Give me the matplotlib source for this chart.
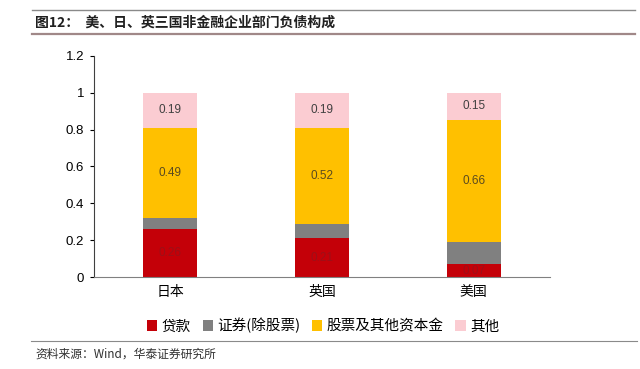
import numpy as np
import matplotlib
matplotlib.use("Agg")
import matplotlib.pyplot as plt
from matplotlib.patches import Patch
from matplotlib.lines import Line2D

plt.rcParams['font.family'] = ['Noto Sans CJK SC', 'DejaVu Sans']

# data
countries = ["日本", "英国", "美国"]
series_names = ["贷款", "证券(除股票)", "股票及其他资本金", "其他"]
loans = [0.26, 0.21, 0.07]
securities = [0.06, 0.08, 0.12]
equity = [0.49, 0.52, 0.66]
other = [0.19, 0.19, 0.15]
y_ticks = [0, 0.2, 0.4, 0.6, 0.8, 1, 1.2]
y_tick_labels = ["0", "0.2", "0.4", "0.6", "0.8", "1", "1.2"]

colors = ["#C40008", "#808080", "#FFC000", "#FBCCD2"]
# labels on the red segments are barely visible in the original
label_colors = ["#9c1018", None, "#5a4a20", "#404040"]

fig = plt.figure(figsize=(6.4, 3.69), dpi=100)
ax = fig.add_axes([0.147, 0.249, 0.712, 0.6])

x = np.arange(len(countries))
bottom = np.zeros(len(countries))
for vals, c, lc in zip([loans, securities, equity, other], colors, label_colors):
    bars = ax.bar(x, vals, width=0.355, bottom=bottom, color=c)
    if lc is not None:
        ax.bar_label(bars, labels=[f"{v:.2f}" for v in vals], label_type="center",
                     color=lc, fontsize=8.5, family=["Liberation Sans"])
    bottom += np.array(vals)

ax.set_xlim(-0.5, 2.5)
ax.set_ylim(0, 1.2)
ax.set_yticks(y_ticks)
ax.set_yticklabels(y_tick_labels, fontsize=9.5, family=["Liberation Sans"])
ax.set_xticks(x)
ax.set_xticklabels(countries, fontsize=10)
ax.tick_params(axis="x", length=0, pad=6)
ax.tick_params(axis="y", length=3, width=0.8, direction="out", pad=4)
for s in ["top", "right"]:
    ax.spines[s].set_visible(False)
ax.spines["left"].set_color("#404040")
ax.spines["bottom"].set_color("#808080")

handles = [Patch(facecolor=c, edgecolor="none") for c in colors]
fig.legend(handles, series_names, loc="center", bbox_to_anchor=(0.505, 0.117), ncol=4,
           frameon=False, fontsize=10.5, handlelength=0.7, handleheight=0.7,
           handletextpad=0.3, columnspacing=0.8)

# header / footer rules and text
fig.add_artist(Line2D([0.05, 0.992], [1 - 9.5 / 369] * 2, color="#8a8a8a", lw=1.0))
fig.add_artist(Line2D([0.05, 0.992], [1 - 33.5 / 369] * 2, color="#a08888", lw=1.6))
fig.add_artist(Line2D([0.048, 0.995], [1 - 340.5 / 369] * 2, color="#8a8a8a", lw=0.8))
fig.text(0.055, 1 - 23 / 369, "图12：  美、日、英三国非金融企业部门负债构成",
         fontsize=10, fontweight="bold", va="center", ha="left", color="#202020")
fig.text(0.055, 1 - 354 / 369, "资料来源：Wind，华泰证券研究所",
         fontsize=8.5, style="italic", va="center", ha="left", color="#303030")

fig.savefig("out.png", dpi=100)
